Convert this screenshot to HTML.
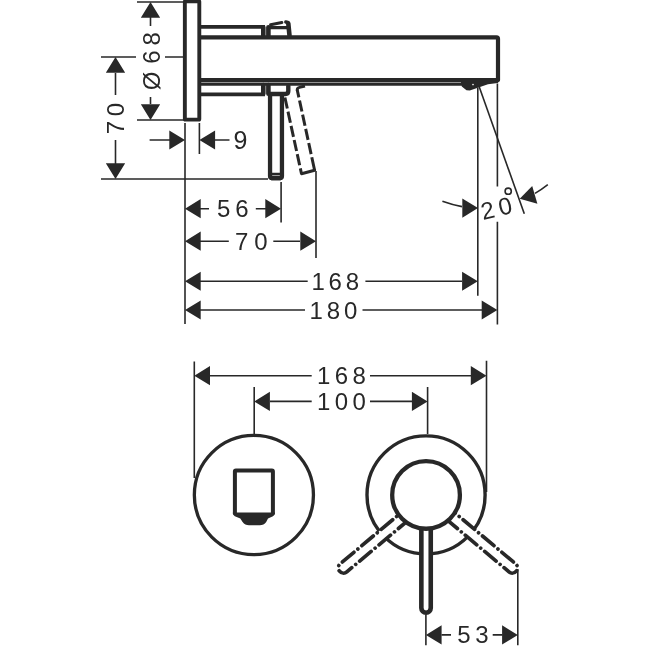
<!DOCTYPE html>
<html>
<head>
<meta charset="utf-8">
<title>Dimension drawing</title>
<style>
html,body{margin:0;padding:0;background:#fff;}
body{width:650px;height:650px;overflow:hidden;font-family:"Liberation Sans",sans-serif;}
svg{display:block;filter:grayscale(1);}
.t{font-family:"Liberation Sans",sans-serif;font-size:24px;fill:#282828;letter-spacing:2.6px;}
.thin{stroke:#282828;stroke-width:1.6;fill:none;}
.obj{stroke:#282828;fill:none;stroke-linejoin:round;}
.arr{fill:#282828;stroke:none;}
</style>
</head>
<body>
<svg width="650" height="650" viewBox="0 0 650 650">
<rect x="0" y="0" width="650" height="650" fill="#ffffff"/>

<!-- ===================== TOP VIEW (side elevation) ===================== -->
<!-- wall plate -->
<rect class="obj" x="184.85" y="1.2" width="14.45" height="118.4" rx="0.6" stroke-width="3.9"/>
<!-- sleeve upper/lower -->
<path class="obj" stroke-linecap="butt" stroke-width="3.8" d="M200 26.8 H265 M200 94.4 H265"/>
<path class="obj" stroke-linecap="round" stroke-width="4.6" d="M263.3 27.2 V36 M268.4 27.2 V36 M263.3 85 V93.8 M268.4 85 V93.8"/>
<!-- spout body -->
<path class="obj" stroke-linecap="butt" stroke-width="4.2" d="M200 37.3 H496.5 Q498 37.3 498 38.8 V80 H200"/>
<path class="obj" stroke-width="3.2" stroke-linecap="butt" d="M200 84.1 H462"/>
<!-- aerator -->
<path class="arr" d="M460.5 80 L461.8 86.5 L466.5 90.2 L469.8 90.4 L488 84.2 L497.8 83 L500 80 Z"/>
<circle cx="473" cy="84.6" r="0.8" fill="#fff"/>
<!-- handle base top -->
<path class="obj" stroke-linecap="round" stroke-width="3.2" d="M270 27.7 H287"/>
<path class="obj" stroke-linecap="round" stroke-width="3.1" d="M270.6 24.7 L281.8 22.5"/>
<path class="obj" stroke-linecap="round" stroke-width="3.4" d="M285.8 22 L288 22.4"/>
<path class="obj" stroke-linecap="round" stroke-width="4.6" d="M288.3 23.6 L289.5 35.5"/>
<!-- handle base bottom -->
<path class="obj" stroke-linecap="round" stroke-width="4.4" d="M288.3 86 V91 Q288.3 94 285.3 94 H270"/>
<!-- solid lever -->
<path class="obj" stroke-linecap="butt" stroke-width="4.3" d="M270.05 94 V176 Q270.05 178.2 272.2 178.2 H279.8 Q281.95 178.2 281.95 176 V94"/>
<path class="obj" stroke-linecap="butt" stroke-width="2.7" d="M270 174.1 H282"/>
<path class="obj" stroke-linecap="butt" stroke-width="3" d="M271 178.8 H281"/>
<!-- dashed lever (tilted) -->
<path class="obj" stroke-width="3" stroke-linecap="butt" stroke-dasharray="11.3 3.2" stroke-dashoffset="5.8" d="M301.5 173.7 L284.8 97"/>
<path class="obj" stroke-width="3" stroke-linecap="butt" stroke-dasharray="13.3 3.2 11.3 3.2 11.3 3.2 11.3 3.2 11.3 3.2 30 3.2" d="M314.6 170.2 L297.2 89.7"/>
<path class="obj" stroke-width="3" stroke-linecap="round" d="M301.5 173.7 L314.6 170.2"/>
<path class="obj" stroke-width="3" stroke-linecap="butt" d="M297.4 90.6 Q296.7 88 299.4 87.4 L305 86"/>

<!-- Ø68 dimension -->
<path class="thin" d="M137 2 H184 M137 120 H184 M150.5 17 V26 M150.5 97 V104"/>
<path class="arr" d="M150.5 2 L140.83 17.7 H160.17 Z M150.5 120 L140.83 104.3 H160.17 Z"/>
<text class="t" transform="translate(159.5 90.2) rotate(-90)" style="letter-spacing:5.1px">Ø<tspan dx="2.6">68</tspan></text>

<!-- 70 vertical dimension -->
<path class="thin" d="M101 57 H136 M165 57 H184 M101 179 H268 M115.5 73 V95 M115.5 140 V164"/>
<path class="arr" d="M115.5 57 L105.83 72.7 H125.17 Z M115.5 179 L105.83 163.3 H125.17 Z"/>
<text class="t" transform="translate(123.8 134.3) rotate(-90)" style="letter-spacing:4.6px">70</text>

<!-- 9 dimension -->
<path class="thin" d="M185 123 V324 M199.4 123 V154 M149.6 140 H170 M215 140 H229.5"/>
<path class="arr" d="M185 140 L169.3 130.43 V149.57 Z M199.4 140 L215.1 130.43 V149.57 Z"/>
<text class="t" x="233.4" y="149.4" style="font-size:25px">9</text>

<!-- 56 dimension -->
<path class="thin" d="M281.1 182 V222.6 M200 208.7 H209 M255.8 208.7 H266"/>
<path class="arr" d="M185 208.7 L200.7 199.03 V218.37 Z M281 208.7 L265.3 199.03 V218.37 Z"/>
<text class="t" x="217" y="217.2" style="letter-spacing:4.9px">56</text>

<!-- 70 horizontal dimension -->
<path class="thin" d="M316 171 V258 M200 241.2 H228.8 M273.3 241.2 H300"/>
<path class="arr" d="M185 241.2 L200.7 231.53 V250.87 Z M316 241.2 L300.3 231.53 V250.87 Z"/>
<text class="t" x="235" y="249.9" style="letter-spacing:5.8px">70</text>

<!-- 168 dimension -->
<path class="thin" d="M477.8 87.7 V295.8 M200 281.2 H307.7 M365.4 281.2 H462"/>
<path class="arr" d="M185 281.2 L200.7 271.63 V290.77 Z M477.8 281.2 L462.1 271.63 V290.77 Z"/>
<text class="t" x="311.4" y="289.8" style="letter-spacing:3.8px">168</text>

<!-- 180 dimension -->
<path class="thin" d="M497.4 83.4 V186.4 M497.4 221.7 V324.5 M200 310 H305 M362.5 310 H482"/>
<path class="arr" d="M185 310 L200.7 300.43 V319.57 Z M497.4 310 L481.7 300.43 V319.57 Z"/>
<text class="t" x="309.6" y="318.6" style="letter-spacing:3.8px">180</text>

<!-- 20 degree -->
<path class="thin" d="M479.2 86.8 L524.3 213.8"/>
<path class="thin" d="M442.4 201.3 A120 120 0 0 0 462 206.6"/>
<path class="thin" d="M535 193.4 A120 120 0 0 0 547.8 184.6"/>
<path class="arr" d="M478 208 L462.3 198.43 V217.78 Z"/>
<path class="arr" d="M519.7 198.8 L532.2 186 L537.4 203.8 Z"/>
<text class="t" transform="translate(483 219.9) rotate(-13)" style="letter-spacing:4.6px">20</text>
<circle cx="508.2" cy="191.2" r="3.1" fill="none" stroke="#282828" stroke-width="1.6"/>

<!-- ===================== BOTTOM VIEW (front elevation) ===================== -->
<!-- left escutcheon -->
<circle class="obj" stroke-linecap="round" cx="253.9" cy="495" r="59.55" stroke-width="3.3"/>
<path class="obj" stroke-linecap="butt" stroke-width="4" style="fill:#fff" d="M234.9 514 V471.4 Q234.9 470.4 235.9 470.4 H271.9 Q272.9 470.4 272.9 471.4 V514"/>
<path class="arr" d="M232.9 512.6 L233 514.6 L234.8 516.2 L240.3 518.4 L242.6 522 Q245 525.2 249 525.2 H259.8 Q263.8 525.2 266.2 522 L268 518.4 L273 516.2 L274.8 514.6 L274.9 512.6 Z"/>

<!-- right control -->
<circle class="obj" stroke-linecap="round" cx="426.05" cy="494.9" r="59.05" stroke-width="3.4"/>
<!-- dash-dot levers -->
<g stroke="#282828" fill="#fff" stroke-width="3.7" stroke-linecap="round" stroke-dasharray="15 5.15 0.01 5.15">
<path transform="translate(427.9 497) rotate(50)" d="M-5.2 16.3 V110.2 A5.2 5.2 0 0 0 5.2 110.2 V16.3"/>
<path transform="translate(427.9 497) rotate(-50) scale(-1 1)" d="M-5.2 16.3 V110.2 A5.2 5.2 0 0 0 5.2 110.2 V16.3"/>
</g>
<!-- solid lever -->
<path class="obj" stroke-linecap="round" stroke-width="4.6" style="fill:#fff" d="M421.35 528 V608.1 A4.7 4.7 0 0 0 430.75 608.1 V528"/>
<circle class="obj" stroke-linecap="round" cx="426.05" cy="494.9" r="33.85" stroke-width="4.3" style="fill:#fff"/>

<!-- 168 bottom -->
<path class="thin" d="M194.3 361.4 V478 M486.5 360.8 V492 M210 375.7 H311.7 M370 375.7 H471"/>
<path class="arr" d="M194.3 375.7 L210 366.1 V385.3 Z M486.5 375.7 L470.8 366.1 V385.3 Z"/>
<text class="t" x="317" y="384.3" style="letter-spacing:4.4px">168</text>

<!-- 100 bottom -->
<path class="thin" d="M254.2 387 V434 M427.6 387 V434 M270 401.4 H311.7 M370 401.4 H412.5"/>
<path class="arr" d="M254.2 401.4 L269.9 391.8 V411 Z M427.6 401.4 L411.9 391.8 V411 Z"/>
<text class="t" x="317" y="410" style="letter-spacing:4.4px">100</text>

<!-- 53 bottom -->
<path class="thin" d="M425.9 614.5 V645.2 M517.8 569 V645.2 M441.5 634.9 H451 M492.7 634.9 H502.5"/>
<path class="arr" d="M425.9 634.9 L441.6 625.3 V644.5 Z M517.8 634.9 L502.1 625.3 V644.5 Z"/>
<text class="t" x="457.3" y="643.4" style="letter-spacing:4.6px">53</text>
</svg>
</body>
</html>
